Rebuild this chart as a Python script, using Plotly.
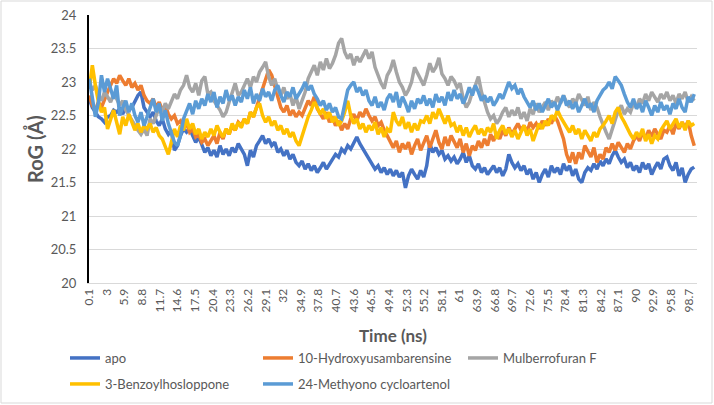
import plotly.graph_objects as go

time = [round(0.1 + 0.5 * i, 1) for i in range(200)]

tick_labels = ["0.1", "3", "5.9", "8.8", "11.7", "14.6", "17.5", "20.4", "23.3", "26.2",
               "29.1", "32", "34.9", "37.8", "40.7", "43.6", "46.5", "49.4", "52.3", "55.2",
               "58.1", "61", "63.9", "66.8", "69.7", "72.6", "75.5", "78.4", "81.3", "84.2",
               "87.1", "90", "92.9", "95.8", "98.7"]

apo = [
    22.75, 22.62, 22.55, 22.48, 22.45, 22.40, 22.48, 22.50, 22.58, 22.55,
    22.60, 22.52, 22.65, 22.58, 22.62, 22.70, 22.80, 22.85, 22.62, 22.55,
    22.48, 22.55, 22.42, 22.35, 22.45, 22.30, 22.22, 22.28, 21.98, 22.05,
    22.20, 22.30, 22.25, 22.30, 22.20, 22.10, 22.18, 22.05, 21.95, 22.02,
    21.90, 21.98, 21.88, 22.05, 21.92, 22.00, 21.90, 22.02, 21.95, 22.08,
    22.00, 21.92, 21.75, 21.98, 21.88, 22.05, 22.12, 22.20, 22.08, 22.15,
    22.05, 22.10, 21.95, 22.00, 21.90, 21.98, 21.85, 21.92, 21.80, 21.75,
    21.82, 21.70, 21.78, 21.68, 21.75, 21.65, 21.72, 21.80, 21.70, 21.78,
    21.85, 21.92, 21.88, 22.00, 21.95, 22.05, 22.00, 22.10, 22.18, 22.08,
    22.00, 21.92, 21.85, 21.78, 21.70, 21.75, 21.65, 21.72, 21.62, 21.70,
    21.60, 21.68, 21.58, 21.65, 21.42, 21.60, 21.70, 21.62, 21.55, 21.68,
    21.58, 21.75, 22.08, 21.95, 22.02, 21.92, 21.98, 21.85, 21.90, 21.82,
    21.88, 21.78, 21.85, 21.95, 21.80, 21.90, 21.75, 21.70, 21.78, 21.65,
    21.72, 21.62, 21.68, 21.75, 21.65, 21.72, 21.60, 21.70, 21.92, 21.80,
    21.72, 21.78, 21.68, 21.75, 21.62, 21.70, 21.55, 21.65, 21.50, 21.62,
    21.70, 21.58, 21.75, 21.65, 21.72, 21.62, 21.78, 21.68, 21.75, 21.60,
    21.70, 21.55, 21.50, 21.65, 21.72, 21.68, 21.78, 21.70, 21.82, 21.75,
    21.85, 21.78, 21.90, 21.98, 21.88, 21.80, 21.85, 21.72, 21.80, 21.68,
    21.75, 21.65, 21.80, 21.70, 21.78, 21.62, 21.72, 21.80, 21.70, 21.85,
    21.88, 21.75, 21.68, 21.80, 21.60, 21.72, 21.50, 21.62, 21.70, 21.73,
]

hydroxy = [
    22.80, 22.65, 22.58, 22.70, 22.62, 22.75, 22.85, 22.95, 23.05, 22.98,
    23.10, 23.02, 22.95, 23.05, 22.92, 22.98, 22.88, 22.95, 22.80, 22.72,
    22.68, 22.75, 22.62, 22.70, 22.58, 22.65, 22.52, 22.45, 22.50, 22.38,
    22.42, 22.32, 22.38, 22.25, 22.30, 22.18, 22.22, 22.10, 22.15, 22.05,
    22.12, 22.20, 22.08, 22.25, 22.15, 22.30, 22.22, 22.35, 22.28, 22.40,
    22.35, 22.45, 22.38, 22.55, 22.48, 22.62, 22.75, 22.90, 23.05, 23.18,
    23.10, 22.95, 22.78, 22.62, 22.55, 22.65, 22.50, 22.58, 22.48, 22.55,
    22.50, 22.62, 22.72, 22.65, 22.78, 22.60, 22.52, 22.45, 22.55, 22.40,
    22.48, 22.35, 22.42, 22.28, 22.38, 22.30, 22.45, 22.52, 22.42, 22.55,
    22.48, 22.60, 22.50, 22.42, 22.48, 22.35, 22.40, 22.28, 22.20, 22.10,
    22.02, 22.12, 21.95, 22.08, 22.00, 22.10, 21.92, 22.05, 22.15, 21.98,
    22.08, 22.20, 22.02, 22.15, 22.28, 22.10, 22.00, 22.18, 22.05, 22.20,
    22.10, 22.02, 22.15, 21.95, 22.08, 21.90, 22.05, 21.98, 22.12, 22.02,
    22.15, 22.05, 22.22, 22.12, 22.25, 22.15, 22.28, 22.20, 22.32, 22.22,
    22.30, 22.38, 22.28, 22.35, 22.25, 22.40, 22.32, 22.38, 22.30, 22.42,
    22.35, 22.45, 22.38, 22.50, 22.42, 22.30, 22.15, 21.92, 21.80, 21.95,
    21.78, 21.95, 21.85, 22.05, 21.95, 21.88, 22.02, 21.80, 21.92, 21.85,
    22.02, 21.95, 22.08, 21.98, 22.10, 22.02, 21.95, 22.08, 22.00, 22.12,
    22.20, 22.12, 22.25, 22.15, 22.28, 22.18, 22.30, 22.22, 22.15, 22.28,
    22.25, 22.35, 22.22, 22.38, 22.30, 22.40, 22.32, 22.42, 22.20, 22.05,
]

mulberrofuran = [
    23.00, 22.88, 22.95, 22.80, 22.72, 22.85, 22.78, 22.70, 22.82, 22.75,
    22.65, 22.72, 22.58, 22.50, 22.42, 22.35, 22.28, 22.22, 22.30, 22.20,
    22.45, 22.38, 22.50, 22.62, 22.55, 22.68, 22.60, 22.70, 22.82, 22.75,
    22.88, 22.95, 23.10, 22.92, 22.85, 22.98, 22.80, 23.02, 23.08, 22.82,
    22.85, 22.72, 22.65, 22.58, 22.48, 22.55, 22.70, 22.85, 22.98, 22.80,
    22.85, 22.95, 23.05, 22.92, 23.08, 23.00, 23.15, 23.22, 23.30, 23.08,
    22.95, 23.05, 22.88, 22.80, 22.92, 22.75, 22.82, 22.65, 22.78, 22.60,
    22.72, 22.85, 23.05, 23.15, 23.25, 23.10, 23.30, 23.18, 23.35, 23.20,
    23.28, 23.40, 23.58, 23.65, 23.45, 23.35, 23.42, 23.25, 23.38, 23.30,
    23.40, 23.48, 23.35, 23.45, 23.22, 23.10, 22.98, 22.90, 23.10, 23.18,
    23.33, 23.15, 23.00, 22.92, 22.80, 22.88, 23.00, 23.22, 23.12, 23.02,
    22.95, 23.10, 23.28, 23.15, 23.22, 23.36, 23.12, 23.05, 22.95, 23.08,
    23.02, 22.92, 22.98, 22.75, 22.62, 22.70, 22.85, 22.95, 23.08, 22.85,
    22.68, 22.55, 22.45, 22.50, 22.38, 22.45, 22.55, 22.62, 22.48, 22.58,
    22.50, 22.62, 22.45, 22.55, 22.42, 22.60, 22.52, 22.68, 22.55, 22.62,
    22.70, 22.58, 22.72, 22.65, 22.78, 22.68, 22.80, 22.70, 22.62, 22.75,
    22.68, 22.82, 22.72, 22.65, 22.78, 22.58, 22.70, 22.62, 22.48, 22.35,
    22.25, 22.15, 22.30, 22.45, 22.58, 22.65, 22.52, 22.60, 22.55, 22.68,
    22.62, 22.75, 22.68, 22.82, 22.72, 22.85, 22.78, 22.70, 22.82, 22.75,
    22.85, 22.72, 22.80, 22.68, 22.82, 22.75, 22.85, 22.70, 22.78, 22.72,
]

benzoyl = [
    22.90, 23.25, 22.95, 22.70, 22.55, 22.62, 22.30, 22.45, 22.58, 22.40,
    22.22, 22.48, 22.35, 22.52, 22.40, 22.28, 22.38, 22.25, 22.35, 22.30,
    22.38, 22.25, 22.32, 22.20, 22.15, 22.05, 21.92, 22.10, 22.30, 22.18,
    22.35, 22.28, 22.45, 22.30, 22.38, 22.22, 22.30, 22.15, 22.25, 22.18,
    22.30, 22.20, 22.35, 22.25, 22.18, 22.30, 22.22, 22.38, 22.28, 22.40,
    22.32, 22.45, 22.38, 22.55, 22.48, 22.62, 22.68, 22.50, 22.40, 22.48,
    22.35, 22.42, 22.28, 22.35, 22.22, 22.30, 22.18, 22.25, 22.12, 22.05,
    22.20, 22.35, 22.48, 22.58, 22.70, 22.62, 22.52, 22.60, 22.45, 22.55,
    22.40, 22.48, 22.35, 22.42, 22.55, 22.72, 22.50, 22.38, 22.45, 22.30,
    22.38, 22.25, 22.35, 22.28, 22.40, 22.22, 22.32, 22.18, 22.30, 22.25,
    22.55, 22.42, 22.35, 22.48, 22.30, 22.40, 22.25, 22.38, 22.28, 22.42,
    22.40, 22.50, 22.38, 22.55, 22.45, 22.60, 22.48, 22.38, 22.50, 22.35,
    22.38, 22.25, 22.35, 22.20, 22.32, 22.18, 22.28, 22.35, 22.22, 22.30,
    22.20, 22.32, 22.25, 22.38, 22.15, 22.28, 22.35, 22.22, 22.30, 22.18,
    22.28, 22.15, 22.25, 22.35, 22.20, 22.30, 22.12, 22.25, 22.38, 22.30,
    22.42, 22.35, 22.50, 22.45, 22.58, 22.48, 22.40, 22.32, 22.25, 22.35,
    22.22, 22.30, 22.15, 22.28, 22.20, 22.12, 22.25, 22.18, 22.30, 22.35,
    22.42, 22.50, 22.38, 22.55, 22.62, 22.48, 22.40, 22.30, 22.22, 22.15,
    22.25, 22.18, 22.30, 22.12, 22.22, 22.08, 22.20, 22.15, 22.28, 22.35,
    22.42, 22.30, 22.38, 22.45, 22.32, 22.40, 22.28, 22.42, 22.35, 22.38,
]

methyono = [
    23.05, 22.80, 22.48, 22.70, 23.10, 22.85, 23.05, 22.90, 22.75, 22.95,
    22.50, 22.62, 22.72, 22.55, 22.68, 22.50, 22.40, 22.55, 22.35, 22.48,
    22.62, 22.75, 22.55, 22.68, 22.42, 22.58, 22.38, 22.25, 22.10, 22.05,
    22.20, 22.45, 22.55, 22.68, 22.52, 22.72, 22.60, 22.75, 22.65, 22.82,
    22.70, 22.85, 22.62, 22.78, 22.68, 22.88, 22.72, 22.80, 22.65, 22.78,
    22.70, 22.88, 22.75, 22.92, 22.68, 22.82, 22.72, 22.90, 22.78, 22.85,
    22.72, 22.88, 22.95, 22.80, 22.70, 22.85, 22.78, 22.92, 22.75, 22.82,
    22.90, 23.00, 22.88, 22.95, 22.82, 22.75, 22.65, 22.72, 22.58, 22.68,
    22.55, 22.62, 22.48, 22.45, 22.70, 22.88, 22.95, 23.00, 22.85, 22.92,
    22.80, 22.88, 22.72, 22.65, 22.78, 22.62, 22.70, 22.58, 22.75, 22.82,
    22.70, 22.85, 22.62, 22.78, 22.68, 22.55, 22.72, 22.60, 22.75, 22.68,
    22.80, 22.65, 22.75, 22.62, 22.82, 22.70, 22.78, 22.65, 22.85, 22.72,
    22.88, 22.75, 22.82, 22.68, 22.78, 22.92, 22.80, 22.95, 22.85, 22.72,
    22.80, 22.70, 22.78, 22.65, 22.72, 22.82, 22.75, 22.88, 23.00, 22.90,
    22.95, 22.82, 22.90, 22.78, 22.70, 22.62, 22.72, 22.58, 22.68, 22.55,
    22.65, 22.75, 22.62, 22.70, 22.58, 22.68, 22.80, 22.65, 22.72, 22.60,
    22.70, 22.55, 22.65, 22.75, 22.62, 22.68, 22.55, 22.72, 22.80, 22.88,
    22.92, 23.00, 22.90, 23.08, 23.02, 22.95, 22.82, 22.70, 22.62, 22.75,
    22.60, 22.68, 22.55, 22.72, 22.62, 22.50, 22.65, 22.55, 22.70, 22.58,
    22.65, 22.52, 22.68, 22.60, 22.75, 22.62, 22.55, 22.78, 22.70, 22.82,
]

names = ["apo", "10-Hydroxyusambarensine", "Mulberrofuran F",
         "3-Benzoylhosloppone", "24-Methyono cycloartenol"]
series = [apo, hydroxy, mulberrofuran, benzoyl, methyono]
colors = ["#4472C4", "#ED7D31", "#A5A5A5", "#FFC000", "#5B9BD5"]

W, H = 714, 405
L, R, T, B = 89, 17, 15, 122
pw, ph = W - L - R, H - T - B

def px_x(px):
    return (px - L) / pw

def px_y(py):
    return (H - B - py) / ph

# legend item positions (pixel: line start x, row centre y)
leg_pos = [(70, 358), (263, 358), (468, 358), (70, 384), (263, 384)]

fig = go.Figure()
layout_legends = {}
for i, (nm, ys, c) in enumerate(zip(names, series, colors)):
    key = "legend" if i == 0 else f"legend{i + 1}"
    fig.add_trace(go.Scatter(x=time, y=ys, mode="lines", name=nm,
                             line=dict(color=c, width=3.5), legend=key))
    lx, ly = leg_pos[i]
    layout_legends[key] = dict(
        x=px_x(lx - 5), y=px_y(ly), xanchor="left", yanchor="middle",
        orientation="h", bgcolor="rgba(0,0,0,0)",
        font=dict(family="Lato", size=13, color="#595959"),
    )

fig.update_layout(
    width=W, height=H,
    margin=dict(l=L, r=R, t=T, b=B, autoexpand=False),
    paper_bgcolor="white", plot_bgcolor="white",
    showlegend=True,
    font=dict(family="Lato", color="#595959"),
    xaxis=dict(
        range=[0.05, 100.05], tickmode="array",
        tickvals=[float(s) for s in tick_labels], ticktext=tick_labels,
        tickangle=-90, tickfont=dict(size=12, color="#595959"),
        showgrid=False, zeroline=False, showline=True, linecolor="#D9D9D9",
        linewidth=1, ticks="", automargin=False,
    ),
    yaxis=dict(
        range=[20, 24], dtick=0.5, tick0=20,
        tickfont=dict(size=13, color="#595959"),
        showgrid=True, gridcolor="#D9D9D9", gridwidth=1,
        zeroline=False, showline=True, linecolor="#000000", linewidth=2,
        ticks="", ticklabelstandoff=8, automargin=False,
    ),
    annotations=[
        dict(text="<b>RoG (Å)</b>", xref="paper", yref="paper",
             x=px_x(35), y=px_y(149), xanchor="center", yanchor="middle",
             textangle=-90, showarrow=False,
             font=dict(family="Lato", size=20, color="#595959")),
        dict(text="<b>Time (ns)</b>", xref="paper", yref="paper",
             x=px_x(393), y=px_y(335), xanchor="center", yanchor="middle",
             showarrow=False,
             font=dict(family="Lato", size=17, color="#595959")),
    ],
    shapes=[
        dict(type="rect", xref="paper", yref="paper",
             x0=px_x(1), x1=px_x(712), y0=px_y(403), y1=px_y(1),
             line=dict(color="#D9D9D9", width=1), fillcolor="rgba(0,0,0,0)",
             layer="below"),
    ],
    **layout_legends,
)

fig.write_html("out.html",
               config={"displayModeBar": False},
               post_script="document.body.style.margin='0';document.body.style.overflow='hidden';")
